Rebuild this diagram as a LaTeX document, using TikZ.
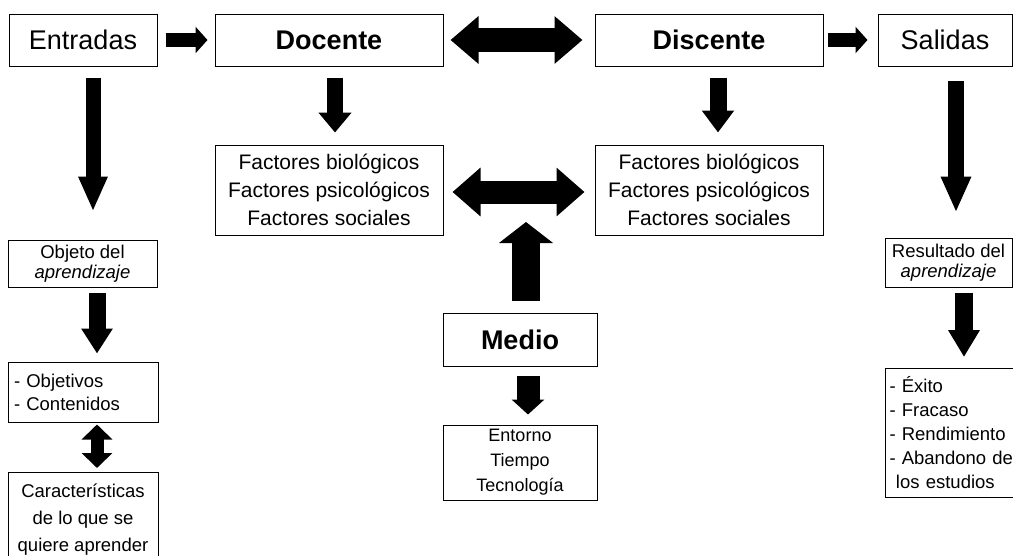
\documentclass[tikz,border=0pt]{standalone}
\usepackage{fontspec}
\setmainfont{Liberation Sans}
\usetikzlibrary{arrows.meta}

\begin{document}
\begin{tikzpicture}[x=1pt, y=-1pt,
  box/.style={draw, line width=1pt, inner sep=0pt, align=center},
  title/.style={box, minimum height=52pt, font=\fontsize{27}{30}\selectfont},
  factbox/.style={box, minimum width=228pt, minimum height=90pt,
    font=\fontsize{21}{28}\selectfont},
  small/.style={box, font=\fontsize{18.5}{20}\selectfont},
  arrowfat/.style n args={3}{line width=#1, -{Triangle[length=#2, width=#3]}},
  arrowtwo/.style n args={3}{line width=#1,
    {Triangle[length=#2, width=#3]}-{Triangle[length=#2, width=#3]}}]
  \useasboundingbox (0,0) rectangle (1013,555);
  \clip (0,0) rectangle (1013,555);

  % top row
  \node[title, minimum width=148pt] (entradas) at (83,40) {Entradas};
  \node[title, minimum width=228pt, font=\fontsize{27}{30}\selectfont\bfseries]
    (docente) at (329,40) {Docente};
  \node[title, minimum width=228pt, font=\fontsize{27}{30}\selectfont\bfseries]
    (discente) at (709,40) {Discente};
  \node[title, minimum width=134pt] (salidas) at (945,40) {Salidas};

  % factors
  \node[factbox] (factdoc) at (329,190)
    {Factores biológicos\\Factores psicológicos\\Factores sociales};
  \node[factbox] (factdis) at (709,190)
    {Factores biológicos\\Factores psicológicos\\Factores sociales};

  % medio
  \node[title, minimum width=154pt, minimum height=53pt,
    font=\fontsize{27}{30}\selectfont\bfseries] (medio) at (520,339.5) {Medio};
  \node[small, minimum width=154pt, minimum height=75pt,
    font=\fontsize{18}{25}\selectfont] (entorno) at (520,462.5)
    {Entorno\\Tiempo\\Tecnología};
  \coordinate (link) at (526,222);

  % left column
  \node[small, minimum width=149pt, minimum height=47pt] (objeto) at (82.5,263.5)
    {Objeto del\\\textit{aprendizaje}};
  \node[small, text width=138pt, inner xsep=6pt, minimum height=60pt,
    align=left, font=\fontsize{18.5}{23}\selectfont] (objetivos) at (83,392)
    {- Objetivos\\- Contenidos};
  \node[small, minimum width=150pt, anchor=north, inner ysep=11pt,
    font=\fontsize{18.5}{27}\selectfont] (caract) at (83,472)
    {Características\\de lo que se\\quiere aprender};

  % right column
  \node[small, minimum width=127pt, minimum height=49pt] (resultado) at (948.5,262.5)
    {Resultado del\\\textit{aprendizaje}};
  \node[small, text width=140pt, inner xsep=4pt, minimum height=129pt,
    anchor=north west, align=left, font=\fontsize{18.5}{24}\selectfont]
    (exito) at (885,368)
    {- Éxito\\- Fracaso\\- Rendimiento\\- Abandono de\\\hspace*{0.35em}los estudios};

  % arrows
  \draw[arrowfat={14pt}{12pt}{26pt}, shorten <=8pt, shorten >=7pt]
    (entradas.east) -- (docente.west);
  \draw[arrowfat={14pt}{12pt}{26pt}, shorten <=4pt, shorten >=10pt]
    (discente.east) -- (salidas.west);
  \draw[arrowtwo={24pt}{28pt}{46pt}, shorten <=7pt, shorten >=12pt]
    (docente.east) -- (discente.west);
  \draw[arrowtwo={23pt}{28pt}{47pt}, shorten <=9pt, shorten >=10pt]
    ([yshift=-2pt]factdoc.east) -- ([yshift=-2pt]factdis.west);
  \draw[arrowfat={15pt}{35pt}{27pt}, shorten <=11pt, shorten >=28pt]
    ([xshift=10pt]entradas.south) -- ([xshift=10pt]entradas.south |- objeto.north);
  \draw[arrowfat={16pt}{20pt}{32pt}, shorten <=11pt, shorten >=12pt]
    ([xshift=6pt]docente.south) -- ([xshift=6pt]docente.south |- factdoc.north);
  \draw[arrowfat={17pt}{22pt}{31pt}, shorten <=11pt, shorten >=12pt]
    ([xshift=9pt]discente.south) -- ([xshift=9pt]discente.south |- factdis.north);
  \draw[arrowfat={16pt}{36pt}{28pt}, shorten <=14pt, shorten >=25pt]
    ([xshift=11pt]salidas.south) -- ([xshift=11pt]salidas.south |- resultado.north);
  \draw[arrowfat={28pt}{21pt}{53pt}, shorten <=12pt]
    ([xshift=6pt]medio.north) -- (link);
  \draw[arrowfat={23pt}{15pt}{32pt}, shorten <=9pt, shorten >=10pt]
    ([xshift=8pt]medio.south) -- ([xshift=8pt]medio.south |- entorno.north);
  \draw[arrowfat={17pt}{25pt}{30pt}, shorten <=5pt, shorten >=8pt]
    ([xshift=14.5pt]objeto.south) -- ([xshift=14.5pt]objeto.south |- objetivos.north);
  \draw[arrowtwo={13pt}{15pt}{30pt}, shorten <=2pt, shorten >=4pt]
    ([xshift=14pt]objetivos.south) -- ([xshift=14pt]objetivos.south |- caract.north);
  \draw[arrowfat={18pt}{27pt}{30pt}, shorten <=5pt, shorten >=11pt]
    ([xshift=15.5pt]resultado.south) -- ([xshift=15.5pt]resultado.south |- exito.north);
\end{tikzpicture}
\end{document}
